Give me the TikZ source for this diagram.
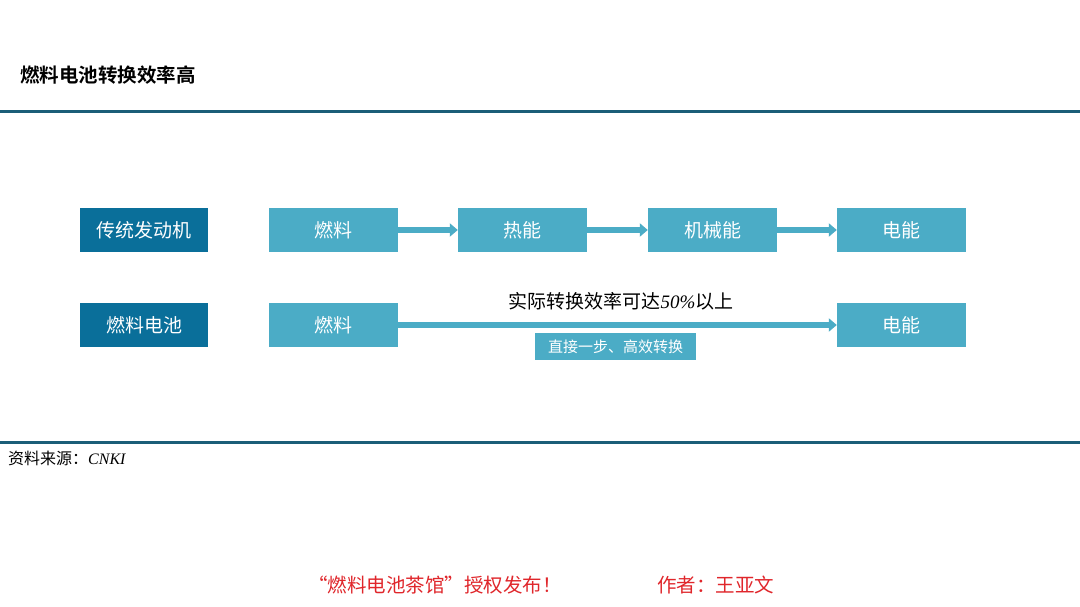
\documentclass[tikz,border=0pt]{standalone}
\usepackage{fontspec}
\setmainfont{Noto Sans CJK SC}
\newfontfamily\cjk{Noto Sans CJK SC}
\newfontfamily\cjkb{Noto Sans CJK SC Bold}
\newfontfamily\latit{Liberation Serif Italic}
\usetikzlibrary{arrows.meta}
\definecolor{darkbox}{HTML}{0A6F9A}
\definecolor{lightbox}{HTML}{4BACC6}
\definecolor{rule}{HTML}{1B5E78}
\definecolor{footred}{HTML}{E0262B}
\tikzset{
  labelbox/.style={fill=darkbox, text=white, minimum width=128pt, minimum height=44pt, inner sep=0pt, font=\cjk\fontsize{19}{19}\selectfont},
  stagebox/.style={fill=lightbox, text=white, minimum width=129pt, minimum height=44pt, inner sep=0pt, font=\cjk\fontsize{19}{19}\selectfont},
  flow/.style={draw=lightbox, line width=5.5pt, -{Triangle[length=8pt,width=13pt]}, shorten >=0pt},
  rulebar/.style={draw=rule, line width=3pt}
}
\begin{document}
\begin{tikzpicture}[x=1pt,y=-1pt]
\useasboundingbox[fill=white] (0,0) rectangle (1080,607);
% title
\node[anchor=west, inner sep=0pt, font=\cjkb\fontsize{19.5}{19.5}\selectfont] (title) at (20,75) {燃料电池转换效率高};
% rules
\coordinate (r1a) at (0,112); \coordinate (r1b) at (1080,112);
\coordinate (r2a) at (0,442); \coordinate (r2b) at (1080,442);
\draw[rulebar] (r1a) -- (r1b);
\draw[rulebar] (r2a) -- (r2b);
% row 1
\node[labelbox] (eng) at (144,230) {传统发动机};
\node[stagebox] (f1) at (333.5,230) {燃料};
\node[stagebox] (h1) at (522.5,230) {热能};
\node[stagebox] (m1) at (712.5,230) {机械能};
\node[stagebox] (e1) at (901.5,230) {电能};
\draw[flow] (f1.east) -- (h1.west);
\draw[flow] (h1.east) -- (m1.west);
\draw[flow] (m1.east) -- (e1.west);
% row 2
\node[labelbox] (fc) at (144,325) {燃料电池};
\node[stagebox] (f2) at (333.5,325) {燃料};
\node[stagebox] (e2) at (901.5,325) {电能};
\draw[flow] (f2.east) -- (e2.west);
\node[inner sep=0pt, font=\cjk\fontsize{19}{19}\selectfont] (eff) at (621,301) {实际转换效率可达{\latit 50\%}以上};
\node[fill=lightbox, text=white, minimum width=161pt, minimum height=27pt, inner sep=0pt, font=\cjk\fontsize{15}{15}\selectfont] (direct) at (615.5,346.5) {直接一步、高效转换};
% source
\node[anchor=west, inner sep=0pt, font=\cjk\fontsize{16}{16}\selectfont] (src) at (8,458) {资料来源：{\latit CNKI}};
% footer
\node[anchor=west, inner sep=0pt, text=footred, font=\cjk\fontsize{19.5}{19.5}\selectfont] (pub) at (308,585) {“燃料电池茶馆”授权发布！};
\node[anchor=west, inner sep=0pt, text=footred, font=\cjk\fontsize{19.5}{19.5}\selectfont] (auth) at (657,585) {作者：王亚文};
\end{tikzpicture}
\end{document}
